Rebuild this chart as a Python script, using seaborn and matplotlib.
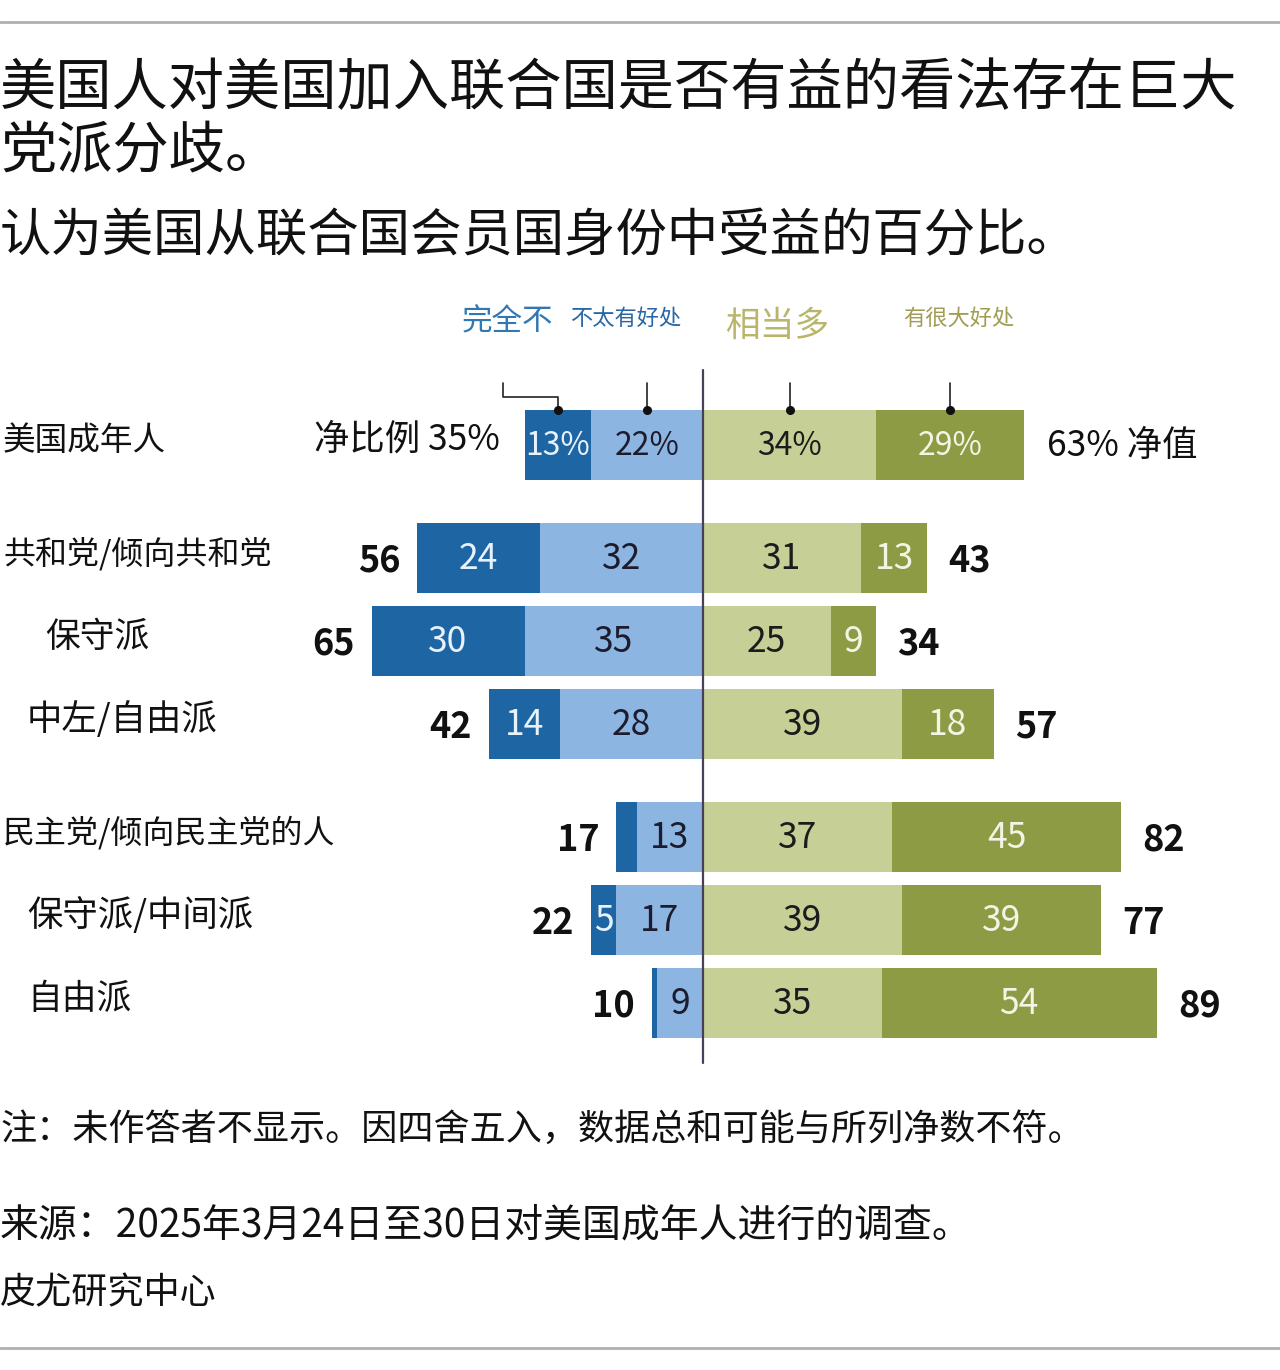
import matplotlib
matplotlib.use("Agg")
import matplotlib.pyplot as plt
import seaborn as sns
import numpy as np
import pandas as pd

# ---- data ----
groups = ["美国成年人", "共和党/倾向共和党", "保守派", "中左/自由派",
          "民主党/倾向民主党的人", "保守派/中间派", "自由派"]
not_at_all = [13, 24, 30, 14, 4, 5, 1]      # 完全不
not_too = [22, 32, 35, 28, 13, 17, 9]       # 不太有好处
fair_amount = [34, 31, 25, 39, 37, 39, 35]  # 相当多
great_deal = [29, 13, 9, 18, 45, 39, 54]    # 有很大好处
net_neg = [35, 56, 65, 42, 17, 22, 10]
net_pos = [63, 43, 34, 57, 82, 77, 89]

title = "美国人对美国加入联合国是否有益的看法存在巨大\n党派分歧。"
subtitle = "认为美国从联合国会员国身份中受益的百分比。"
note = "注：未作答者不显示。因四舍五入，数据总和可能与所列净数不符。"
source = "来源：2025年3月24日至30日对美国成年人进行的调查。"
credit = "皮尤研究中心"

# ---- layout (pixels) ----
W, H = 1280, 1370
ZERO_PX = 703
PX_PER_UNIT = 5.1
row_y = [445, 558, 641, 724, 837, 920, 1003]
label_x = [3, 3, 45, 27, 3, 27, 27]
label_size = [23.5, 23, 25, 25.5, 23, 25.5, 25]

DARK_BLUE = "#1d66a3"
LIGHT_BLUE = "#8db5e2"
LIGHT_OLIVE = "#c6cf95"
DARK_OLIVE = "#8e9b45"

sns.set_theme(style="white")
plt.rcParams["font.family"] = ["Noto Sans CJK SC", "DejaVu Sans"]


def px2x(px):
    return (px - ZERO_PX) / PX_PER_UNIT


df = pd.DataFrame({
    "group": groups, "y": row_y,
    "na": not_at_all, "nt": not_too, "fa": fair_amount, "gd": great_deal,
})
df["left_total"] = -(df["na"] + df["nt"])
df["left_light"] = -df["nt"]
df["right_total"] = df["fa"] + df["gd"]

fig = plt.figure(figsize=(W / 100, H / 100), dpi=100)
fig.patch.set_facecolor("white")
ax = fig.add_axes([0, 0, 1, 1])

# stacked diverging bars: outer totals first, inner segments on top
for col, c in [("left_total", DARK_BLUE), ("left_light", LIGHT_BLUE),
               ("right_total", DARK_OLIVE), ("fa", LIGHT_OLIVE)]:
    sns.barplot(data=df, x=col, y="y", orient="y", native_scale=True,
                color=c, saturation=1, width=0.84, errorbar=None,
                linewidth=0, ax=ax)

ax.set_xlim(px2x(0), px2x(W))
ax.set_ylim(H, 0)
ax.axis("off")

# center line
ax.plot([0, 0], [370, 1063], color="#4a3f58", lw=1.6, zorder=5)

# segment labels
for i, r in df.iterrows():
    pct = "%" if i == 0 else ""
    fs = 23 if i == 0 else 25.5
    y = r["y"] + 1
    if r["na"] >= 5:
        ax.text(-(r["nt"] + r["na"] / 2), y, f"{r['na']}{pct}", ha="center", va="center",
                fontsize=fs, color="#e8f2fc", zorder=6)
    ax.text(-r["nt"] / 2, y, f"{r['nt']}{pct}", ha="center", va="center",
            fontsize=fs, color="#1c1c2e", zorder=6)
    ax.text(r["fa"] / 2, y, f"{r['fa']}{pct}", ha="center", va="center",
            fontsize=fs, color="#1c1c1c", zorder=6)
    ax.text(r["fa"] + r["gd"] / 2, y, f"{r['gd']}{pct}", ha="center", va="center",
            fontsize=fs, color="#f4f4e4", zorder=6)

    left_edge = r["left_total"]
    right_edge = r["right_total"]
    if i == 0:
        ax.text(left_edge - 25 / PX_PER_UNIT, y - 6, f"净比例 {net_neg[i]}%",
                ha="right", va="center", fontsize=25.5, color="#111111")
        ax.text(right_edge + 23 / PX_PER_UNIT, y, f"{net_pos[i]}% 净值",
                ha="left", va="center", fontsize=25.5, color="#111111")
    else:
        ax.text(left_edge - 17 / PX_PER_UNIT, y + 2, str(net_neg[i]), ha="right",
                va="center", fontsize=26, fontweight="bold", color="#111111")
        ax.text(right_edge + 21 / PX_PER_UNIT, y + 2, str(net_pos[i]), ha="left",
                va="center", fontsize=26, fontweight="bold", color="#111111")

    ax.text(px2x(label_x[i]), r["y"] - 4, r["group"], ha="left", va="center",
            fontsize=label_size[i], color="#111111")

# leader lines to the column headers (top row)
top = df.iloc[0]
bar_top = top["y"] - 35
cx = [-(top["nt"] + top["na"] / 2), -top["nt"] / 2, top["fa"] / 2, top["fa"] + top["gd"] / 2]
for k, x in enumerate(cx):
    if k == 0:
        ax.plot([px2x(503), px2x(503), x, x], [383, 397, 397, bar_top],
                color="#222222", lw=1.2)
    else:
        ax.plot([x, x], [383, bar_top], color="#222222", lw=1.2)
    ax.plot(x, bar_top, "o", color="#111111", ms=5.5, zorder=7)

# column headers
ax.text(px2x(507), 322, "完全不", ha="center", va="center", fontsize=22, color="#2f78b5")
ax.text(px2x(626), 318, "不太有好处", ha="center", va="center", fontsize=16, color="#2767a6")
ax.text(px2x(777), 326, "相当多", ha="center", va="center", fontsize=25, color="#b9b56c")
ax.text(px2x(959), 318, "有很大好处", ha="center", va="center", fontsize=16, color="#a19d55")

# titles and footer
ax.text(px2x(0), 121, title, ha="left", va="center", fontsize=40.5,
        color="#111111", linespacing=1.14)
ax.text(px2x(0), 237, subtitle, ha="left", va="center", fontsize=37, color="#111111")
ax.text(px2x(0), 1130, note, ha="left", va="center", fontsize=26, color="#111111")
ax.text(px2x(0), 1225, source, ha="left", va="center", fontsize=28, color="#111111")
ax.text(px2x(0), 1293, credit, ha="left", va="center", fontsize=26, color="#111111")

# rules
ax.plot([px2x(0), px2x(W)], [22, 22], color="#b0b0b0", lw=2)
ax.plot([px2x(0), px2x(W)], [1348, 1348], color="#b0b0b0", lw=2)

fig.savefig("out.png", dpi=100, facecolor="white")
